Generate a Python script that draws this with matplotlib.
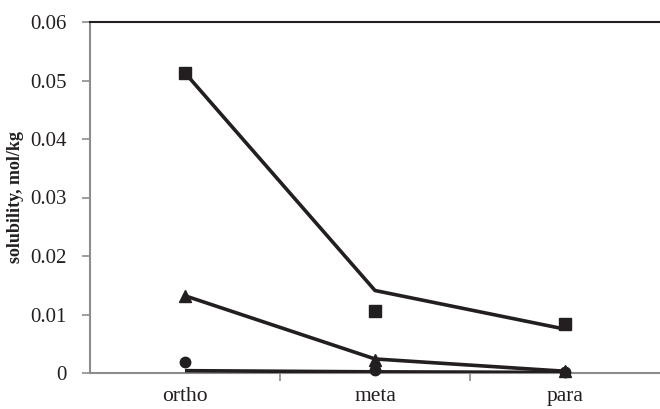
import matplotlib
matplotlib.use("Agg")
import matplotlib.pyplot as plt

categories = ["ortho", "meta", "para"]
square_pts = [0.0513, 0.0106, 0.0084]
square_line = [0.0513, 0.0141, 0.0075]
tri_pts = [0.0132, 0.0023, 0.0003]
tri_line = [0.0132, 0.0024, 0.0003]
circ_pts = [0.0019, 0.0005, 0.0001]
circ_line = [0.0004, 0.0002, 0.0001]
yticks = [0, 0.01, 0.02, 0.03, 0.04, 0.05, 0.06]
ytick_labels = ["0", "0.01", "0.02", "0.03", "0.04", "0.05", "0.06"]

plt.rcParams['font.family'] = ['Liberation Serif', 'DejaVu Serif']
dark = "#231f20"
gray = "#8c8c8c"

fig = plt.figure(figsize=(6.6, 4.09), dpi=100)
ax = fig.add_axes([90/660, 1 - 373/409, 1 - 90/660, 351/409])
x = list(range(len(categories)))

ax.plot(x, square_line, color=dark, lw=2.6, solid_capstyle='butt', zorder=3)
ax.plot(x, tri_line, color=dark, lw=2.6, solid_capstyle='butt', zorder=3)
ax.plot(x, circ_line, color=dark, lw=2.6, solid_capstyle='butt', zorder=3)
ax.plot(x, square_pts, 's', color=dark, ms=8, zorder=4, clip_on=False)
ax.plot(x, tri_pts, '^', color=dark, ms=9, zorder=4, clip_on=False)
ax.plot(x, circ_pts, 'o', color=dark, ms=7.5, zorder=4, clip_on=False)

ax.set_xlim(-0.5, 2.5)
ax.set_ylim(0, 0.06)
ax.set_yticks(yticks)
ax.set_yticklabels(ytick_labels)
ax.set_xticks(x)
ax.set_xticklabels(categories)
ax.set_xticks([0.5, 1.5], minor=True)
ax.tick_params(axis='x', which='major', length=0, pad=10, labelsize=15.5)
ax.tick_params(axis='x', which='minor', length=6, color=gray, width=1.2)
ax.tick_params(axis='y', length=6, color=gray, width=1.2, pad=11, labelsize=15, labelcolor=dark)
ax.tick_params(axis='x', labelcolor=dark)

ax.spines['right'].set_visible(False)
ax.spines['left'].set_color(gray)
ax.spines['left'].set_linewidth(1.5)
ax.spines['bottom'].set_color(gray)
ax.spines['bottom'].set_linewidth(1.5)
ax.spines['top'].set_color(dark)
ax.spines['top'].set_linewidth(1.5)

ax.set_ylabel("solubility, mol/kg", fontweight='bold', fontsize=13, color=dark, labelpad=4)

fig.savefig("out.png", dpi=100)
